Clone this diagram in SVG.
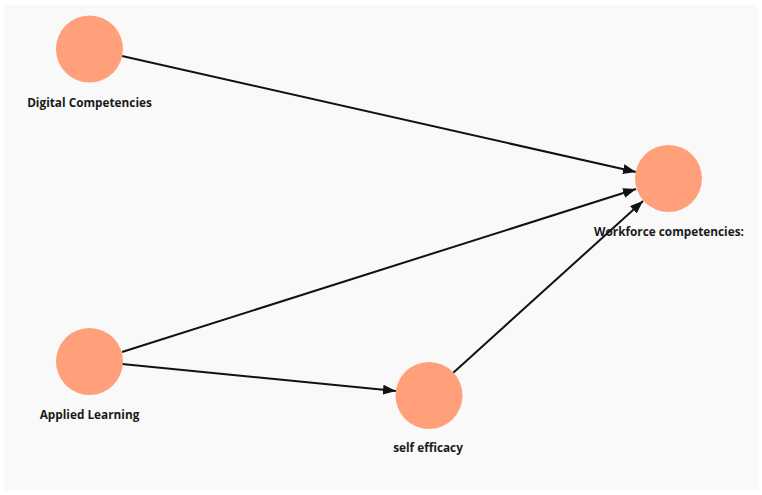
<svg xmlns="http://www.w3.org/2000/svg" width="762" height="495" viewBox="0 0 762 495">
<style>
.node circle{fill:#FFA07A;}
.node text{font-family:"Open Sans","Liberation Sans",sans-serif;font-weight:bold;font-size:11.8px;fill:#1a1a1a;text-anchor:middle;}
.edges line{stroke:#111;stroke-width:2;}
</style>
<defs>
<marker id="arr" viewBox="0 0 13 10" refX="13" refY="5" markerWidth="13" markerHeight="10" markerUnits="userSpaceOnUse" orient="auto">
<path d="M0,0 L13,5 L0,10 Z" fill="#111"/>
</marker>
</defs>
<rect x="0" y="0" width="762" height="495" fill="#ffffff"/>
<rect x="4" y="5" width="754" height="485" fill="#f9f9f9"/>
<g class="edges">
<line x1="122" y1="56" x2="636" y2="172" marker-end="url(#arr)"/>
<line x1="122" y1="352" x2="636" y2="189" marker-end="url(#arr)"/>
<line x1="122" y1="364" x2="396" y2="391" marker-end="url(#arr)"/>
<line x1="453" y1="373" x2="643" y2="201" marker-end="url(#arr)"/>
</g>
<g id="digital" class="node">
<circle cx="89.5" cy="49" r="33.5"/>
<text x="89.5" y="107">Digital Competencies</text>
</g>
<g id="workforce" class="node">
<circle cx="668.5" cy="178.5" r="33.5"/>
<text x="669" y="236">Workforce competencies:</text>
</g>
<g id="applied" class="node">
<circle cx="89.5" cy="361.5" r="33.5"/>
<text x="89.5" y="419">Applied Learning</text>
</g>
<g id="selfefficacy" class="node">
<circle cx="429" cy="395.5" r="33.5"/>
<text x="428" y="452">self efficacy</text>
</g>
</svg>
